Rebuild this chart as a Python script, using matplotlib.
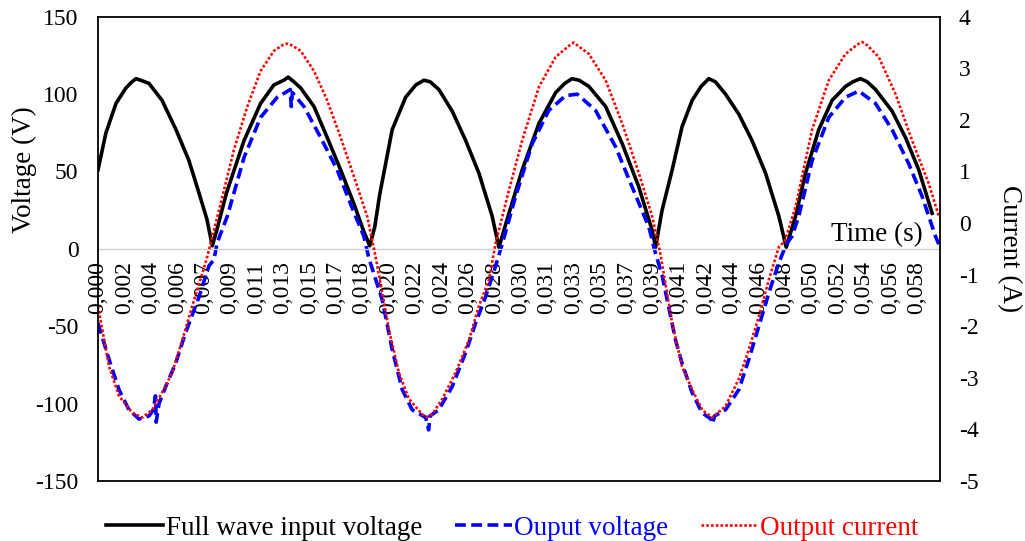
import matplotlib
matplotlib.use('Agg')
import matplotlib.pyplot as plt

plt.rcParams['font.family'] = 'Liberation Serif'
plt.rcParams['axes.unicode_minus'] = False

# values, time in ms
t_in = [0.00, 0.56, 1.27, 1.97, 2.40, 2.68, 3.00, 3.59, 4.51, 5.50, 6.41, 7.12, 7.68, 8.05,
        8.31, 9.05, 10.29, 11.46, 12.40, 13.10, 13.40, 13.80, 14.28, 15.22, 16.15, 17.10, 18.04, 18.70, 19.15,
        19.50, 19.85, 20.73, 21.68, 22.40, 22.97, 23.40, 24.02, 24.96, 25.91, 26.84, 27.78, 28.25,
        28.96, 29.89, 31.07, 32.25, 32.90, 33.41, 33.90, 34.59, 35.77, 36.94, 38.11, 39.05, 39.29,
        39.75, 40.46, 41.16, 41.87, 42.50, 43.04, 43.50, 44.22, 45.16, 46.09, 47.04, 47.98, 48.50,
        49.15, 49.86, 50.79, 51.73, 52.68, 53.20, 53.73, 54.20, 54.79, 55.96, 56.90, 57.84, 58.78]
v_in = [51, 75, 94, 104, 108, 110, 109, 107, 96, 77, 57, 36, 19, 2,
        10, 36, 70, 94, 106, 109, 111, 108, 104, 92, 72, 51, 29, 12, 2,
        14, 35, 77, 98, 106, 109, 108, 103, 89, 70, 49, 21, 1,
        23, 51, 81, 101, 107, 110, 109, 105, 92, 68, 40, 12, 1,
        25, 51, 79, 96, 105, 110, 108, 100, 87, 70, 49, 21, 1,
        21, 49, 77, 96, 105, 108, 110, 108, 103, 89, 72, 51, 23]

t_out = [0.00, 0.78, 1.48, 2.18, 2.89, 3.59, 3.90, 4.05, 4.10, 4.30, 4.77, 5.47, 6.18, 7.12, 7.82, 8.17, 8.40,
         9.11, 10.29, 11.46, 12.63, 13.20, 13.55, 13.62, 13.70, 14.51, 15.69, 16.86, 17.80, 18.74, 19.09,
         20.03, 20.73, 21.44, 22.14, 23.09, 23.30, 23.40, 24.02, 24.96, 25.91, 26.61, 27.31, 28.02, 28.48,
         29.43, 30.60, 31.77, 32.95, 33.77, 35.06, 36.47, 37.64, 38.82, 39.29,
         39.75, 40.70, 41.16, 41.87, 42.57, 43.20, 43.30, 43.45, 44.22, 45.16, 45.86, 46.57, 47.27, 47.98, 48.50,
         48.90, 49.38, 50.32, 51.50, 52.68, 53.61, 54.79, 55.96, 57.13, 58.07, 59.02, 59.25]
v_out = [-48, -71.5, -91, -104, -110, -108, -104, -95, -112, -100, -89, -74, -54, -31, -11, -7, 4,
         21, 59, 85, 98, 101, 103, 92, 101, 92, 72, 51, 29, 8, -6,
         -33, -65, -91, -104, -109, -117, -108, -104, -89, -67, -48, -31, -11, 3,
         34, 68, 89.5, 99, 100, 89.5, 66, 40, 14, -3,
         -17, -59, -74, -93, -106, -110, -113, -108, -104, -91, -71.5, -50, -28.5, -9, 3,
         8, 21, 57, 85, 98, 102, 94, 77, 55, 34, 8, 3]

t_cur = [0.00, 0.78, 1.48, 2.42, 3.12, 3.83, 4.51, 5.23, 5.94, 6.64, 7.35, 7.70, 8.64,
         9.58, 10.52, 11.46, 12.40, 13.00, 13.34, 13.70, 14.28, 15.22, 16.15, 17.10, 18.04, 18.97, 19.56,
         20.50, 21.20, 21.91, 22.85, 23.20, 23.55, 24.26, 25.20, 26.14, 26.84, 27.55, 28.02,
         28.96, 29.89, 31.07, 32.25, 33.20, 33.53, 33.90, 34.59, 35.77, 36.94, 38.11, 39.05, 39.60,
         40.46, 41.16, 41.87, 42.57, 43.28, 44.22, 45.16, 45.86, 46.57, 47.27, 47.98,
         48.40, 49.15, 50.32, 51.50, 52.68, 53.50, 53.84, 54.20, 55.02, 56.20, 57.37, 58.55, 59.25]
i_cur = [-1.61, -2.78, -3.35, -3.68, -3.77, -3.62, -3.29, -2.90, -2.27, -1.61, -0.98, -0.65, 0.37,
         1.42, 2.26, 2.95, 3.34, 3.45, 3.48, 3.44, 3.34, 2.95, 2.38, 1.66, 0.90, 0.13, -0.65,
         -2.06, -2.90, -3.41, -3.71, -3.76, -3.71, -3.41, -2.90, -2.27, -1.61, -1.10, -0.39,
         0.64, 1.60, 2.64, 3.22, 3.44, 3.50, 3.42, 3.28, 2.77, 1.93, 0.97, 0.13, -0.55,
         -1.94, -2.78, -3.23, -3.62, -3.77, -3.55, -3.02, -2.45, -1.81, -1.10, -0.46,
         -0.35, 0.31, 1.81, 2.77, 3.28, 3.46, 3.51, 3.45, 3.22, 2.50, 1.60, 0.76, 0.13]

time_labels = ['0,000', '0,002', '0,004', '0,006', '0,007', '0,009', '0,011', '0,013',
               '0,015', '0,017', '0,018', '0,020', '0,022', '0,024', '0,026', '0,028',
               '0,030', '0,031', '0,033', '0,035', '0,037', '0,039', '0,041', '0,042',
               '0,044', '0,046', '0,048', '0,050', '0,052', '0,054', '0,056', '0,058']
volt_ticks = [-150, -100, -50, 0, 50, 100, 150]
amp_ticks = [-5, -4, -3, -2, -1, 0, 1, 2, 3, 4]

TICK_STEP = 1.861  # ms between category labels
FS = 17     # tick labels
FS_L = 19.5 # axis titles, legend

fig = plt.figure(figsize=(10.25, 5.41), dpi=100)
ax = fig.add_axes([0.0956, 0.111, 0.821, 0.858])
ax2 = ax.twinx()

l1, = ax.plot(t_in, v_in, color='black', lw=2.6, solid_joinstyle='round')
l2, = ax.plot(t_out, v_out, color='#0000ff', lw=2.6, linestyle=(0, (3, 1.5)))
l3, = ax2.plot(t_cur, i_cur, color='#ff0000', lw=1.9, linestyle=(0, (1, 0.8)))

ax.set_xlim(0, 59.3)
ax.set_ylim(-150, 150)
ax2.set_ylim(-5, 4)

ax.set_yticks(volt_ticks)
ax2.set_yticks(amp_ticks)
ax.set_xticks([k * TICK_STEP for k in range(len(time_labels))])
ax.set_xticklabels(time_labels)

ax.tick_params(axis='both', length=0, labelsize=FS)
ax.tick_params(axis='y', pad=14)
ax.tick_params(axis='x', pad=9, labelrotation=90)
for lab in ax.get_xticklabels():
    lab.set_va('top')
ax2.tick_params(axis='y', length=0, labelsize=FS, pad=14)

# horizontal axis crosses at zero
ax.spines['bottom'].set_position(('data', 0))
ax.spines['bottom'].set_color('#d0d0d0')
ax.spines['bottom'].set_linewidth(1)
for s in ['top', 'left', 'right']:
    ax.spines[s].set_visible(False)
for s in ['top', 'bottom', 'left', 'right']:
    ax2.spines[s].set_color('black')
    ax2.spines[s].set_linewidth(1.3)

ax.set_ylabel('Voltage (V)', fontsize=FS_L, va='center')
ax.yaxis.set_label_coords(-0.087, 0.67)
ax2.set_ylabel('Current (A)', fontsize=FS_L, rotation=270, va='center')
ax2.yaxis.set_label_coords(1.083, 0.5)
ax.text(0.98, 0.504, 'Time (s)', transform=ax.transAxes, ha='right', va='bottom',
        fontsize=FS_L)

leg = fig.legend([l1, l2, l3], ['Full wave input voltage', 'Ouput voltage', 'Output current'],
                 loc='lower center', bbox_to_anchor=(0.5, -0.045), ncol=3, frameon=False,
                 fontsize=FS_L, handlelength=2.1, handletextpad=0.1, columnspacing=1.2)
for txt, c in zip(leg.get_texts(), ['black', '#0000ff', '#ff0000']):
    txt.set_color(c)

fig.savefig('out.png', dpi=100, facecolor='white')
